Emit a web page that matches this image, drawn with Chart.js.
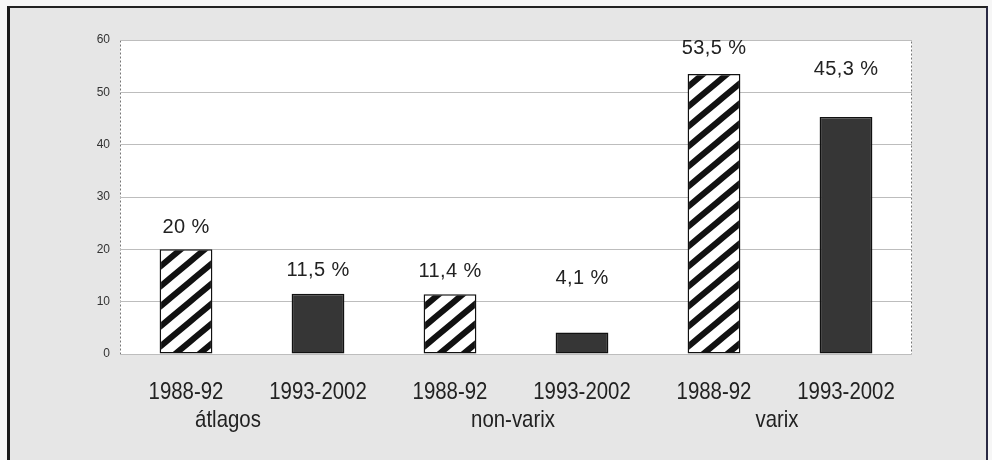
<!DOCTYPE html>
<html>
<head>
<meta charset="utf-8">
<script src="https://cdn.jsdelivr.net/npm/chart.js@4/dist/chart.umd.min.js"></script>
<style>
  html, body { margin: 0; padding: 0; background: #f6f6f6; }
  #frame {
    position: absolute; left: 7px; top: 6px; width: 981px; height: 460px;
    background: #e6e6e6;
    border-left: 3px solid #1a1a1a; border-top: 2px solid #222; border-right: 2px solid #2a2a44;
    box-sizing: border-box;
  }
  #wrap { position: absolute; left: 0; top: 0; width: 992px; height: 460px; }
</style>
</head>
<body>
<div id="frame"></div>
<div id="wrap"><canvas id="chart" width="992" height="460"></canvas></div>
<script>
// data
const periods = ['1988-92', '1993-2002', '1988-92', '1993-2002', '1988-92', '1993-2002'];
const groups = ['átlagos', 'non-varix', 'varix'];
const values = [20, 11.5, 11.4, 4.1, 53.5, 45.3];
const yTicks = [0, 10, 20, 30, 40, 50, 60];

// label placement tweaks (px)
const labelGaps = [22, 23, 23, 54, 26, 47];
const groupShift = [-24, -3, -3];

const FONT = '"Liberation Sans", Arial, sans-serif';
const SQUEEZE = 0.85; // the original uses a condensed face

function makeHatch() {
  const w = 24, h = 20;
  const c = document.createElement('canvas');
  c.width = w; c.height = h;
  const g = c.getContext('2d');
  g.fillStyle = '#fff';
  g.fillRect(0, 0, w, h);
  g.strokeStyle = '#111';
  g.lineWidth = 6;
  g.beginPath();
  for (let k = -1; k <= 1; k++) {
    g.moveTo(-w, 2 * h + k * h);
    g.lineTo(2 * w, -h + k * h);
  }
  g.stroke();
  return g.createPattern(c, 'repeat');
}

const ctx = document.getElementById('chart').getContext('2d');
const hatch = makeHatch();
const fills = periods.map(function(p) { return p === '1988-92' ? hatch : '#363636'; });

const plotBg = {
  id: 'plotBg',
  beforeDraw: function(chart) {
    const a = chart.chartArea, c = chart.ctx;
    c.save();
    c.fillStyle = '#fff';
    c.fillRect(a.left, a.top, a.right - a.left, a.bottom - a.top);
    c.strokeStyle = '#777';
    c.lineWidth = 1;
    c.setLineDash([2, 2]);
    c.strokeRect(a.left + 0.5, a.top + 0.5, a.right - a.left - 1, a.bottom - a.top);
    c.restore();
  }
};

function squeezedText(c, txt, x, y) {
  c.save();
  c.translate(x, y);
  c.scale(SQUEEZE, 1);
  c.fillText(txt, 0, 0);
  c.restore();
}

const textLabels = {
  id: 'textLabels',
  afterDatasetsDraw: function(chart) {
    const c = chart.ctx;
    const meta = chart.getDatasetMeta(0);
    const xs = chart.scales.x;
    const bottom = chart.chartArea.bottom;
    c.save();
    c.fillStyle = '#222';
    c.textAlign = 'center';
    c.textBaseline = 'middle';

    // value labels above bars
    c.font = '20px ' + FONT;
    c.letterSpacing = '0.4px';
    meta.data.forEach(function(bar, i) {
      const txt = String(values[i]).replace('.', ',') + ' %';
      c.fillText(txt, bar.x, bar.y - labelGaps[i]);
    });
    c.letterSpacing = '0px';

    // period labels under each bar
    c.font = '24px ' + FONT;
    periods.forEach(function(p, i) {
      squeezedText(c, p, xs.getPixelForValue(i), bottom + 38);
    });
    // group labels under each pair
    groups.forEach(function(gname, j) {
      const mid = (xs.getPixelForValue(2 * j) + xs.getPixelForValue(2 * j + 1)) / 2;
      squeezedText(c, gname, mid + groupShift[j], bottom + 66);
    });
    c.restore();
  }
};

new Chart(ctx, {
  type: 'bar',
  data: {
    labels: periods,
    datasets: [{
      data: values,
      backgroundColor: fills,
      borderColor: '#111',
      borderWidth: 1.5,
      borderSkipped: false,
      categoryPercentage: 1,
      barPercentage: 0.4
    }]
  },
  options: {
    responsive: false,
    animation: false,
    layout: { padding: { left: 0, top: 40, right: 80, bottom: 20 } },
    plugins: { legend: { display: false }, tooltip: { enabled: false } },
    scales: {
      x: {
        grid: { display: false },
        border: { display: false },
        ticks: { display: false },
        afterFit: function(s) { s.height = 86; }
      },
      y: {
        min: 0, max: 60,
        afterBuildTicks: function(s) { s.ticks = yTicks.map(function(v) { return { value: v }; }); },
        grid: { color: '#bdbdbd', drawTicks: false },
        border: { display: false },
        ticks: { color: '#333', font: { family: FONT, size: 12 }, padding: 10 },
        afterFit: function(s) { s.width = 120; }
      }
    }
  },
  plugins: [plotBg, textLabels]
});
</script>
</body>
</html>
